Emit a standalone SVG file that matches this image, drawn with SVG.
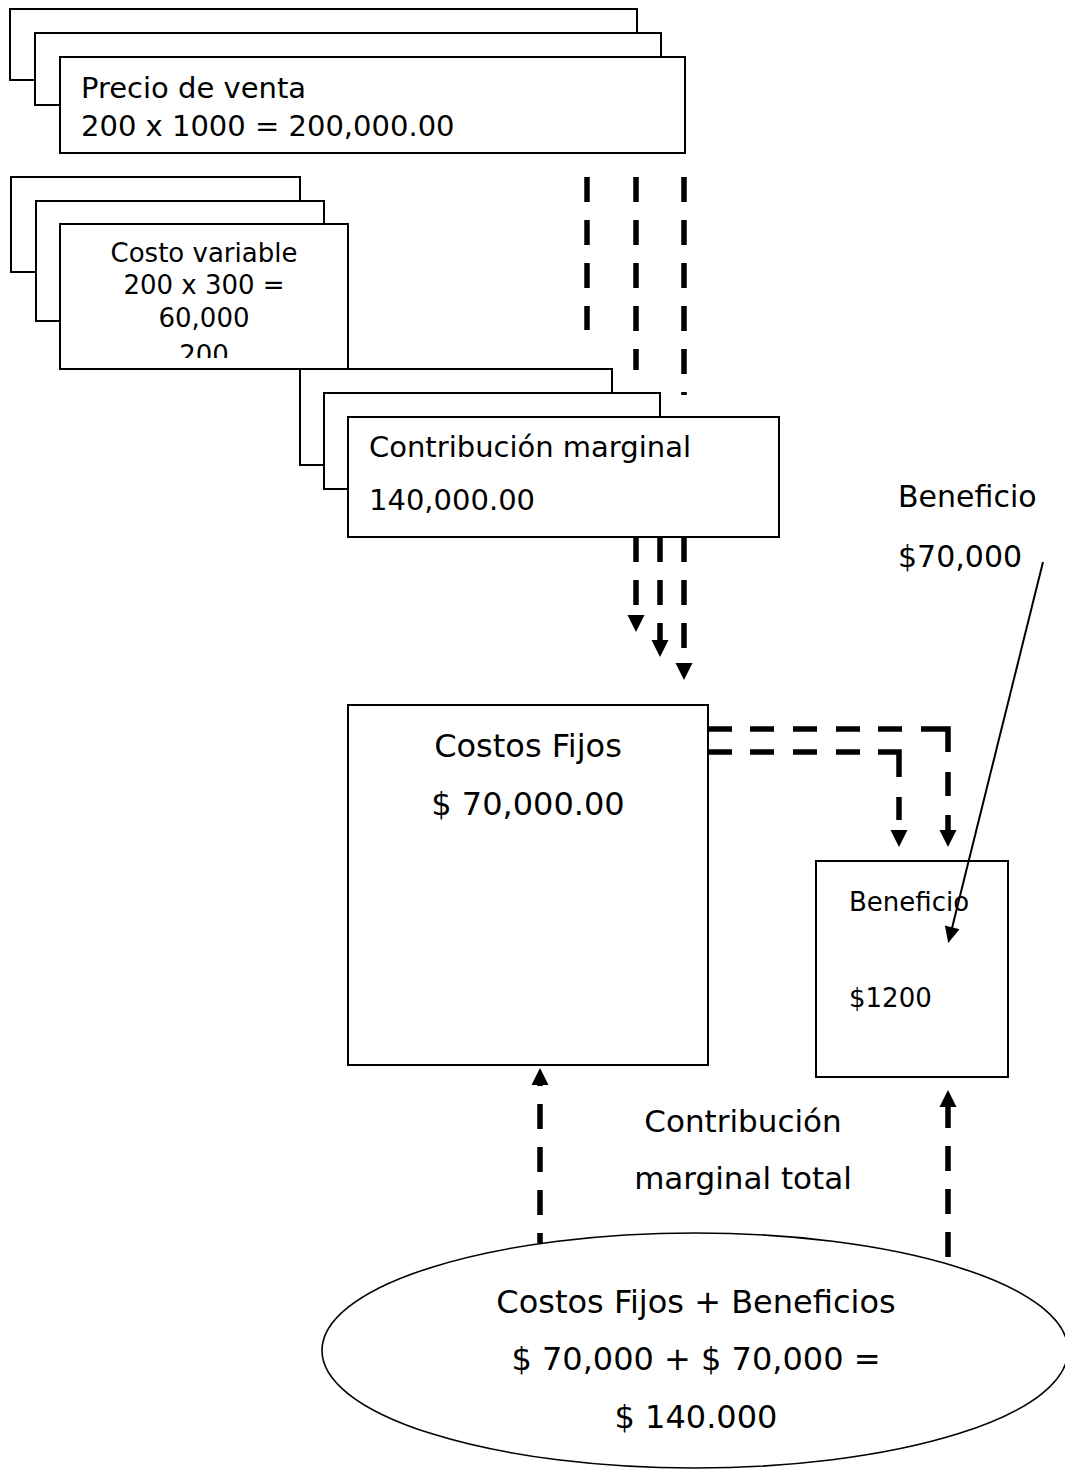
<svg xmlns="http://www.w3.org/2000/svg" width="1065" height="1470" viewBox="0 0 1065 1470">
  <style>
    .box { fill: #ffffff; stroke: #000000; stroke-width: 2; }
    .lbl { font-family: "DejaVu Sans", Verdana, sans-serif; fill: #000000; }
    .dash { fill: none; stroke: #000000; stroke-width: 5.5; stroke-dasharray: 25 18; }
    .thin { fill: none; stroke: #000000; stroke-width: 2; }
  </style>
  <defs>
    <!-- heavy triangular head for the dashed flows -->
    <marker id="head" markerUnits="userSpaceOnUse" markerWidth="17" markerHeight="17" refX="0" refY="8.5" orient="auto" overflow="visible">
      <path d="M0,0 L17,8.5 L0,17 Z" fill="#000000"/>
    </marker>
    <!-- smaller head for the thin pointer line -->
    <marker id="headSmall" markerUnits="userSpaceOnUse" markerWidth="16" markerHeight="15" refX="1" refY="7.5" orient="auto" overflow="visible">
      <path d="M0,0 L16,7.5 L0,15 Z" fill="#000000"/>
    </marker>
    <clipPath id="costoClip">
      <rect x="60" y="224" width="288" height="134"/>
    </clipPath>
  </defs>

  <!-- sale price stack -->
  <g id="precio-venta">
    <rect class="box" x="10" y="9" width="627" height="71"/>
    <rect class="box" x="35" y="33" width="626" height="72"/>
    <rect class="box" x="60" y="57" width="625" height="96"/>
    <text class="lbl" x="81" y="98" font-size="29">Precio de venta</text>
    <text class="lbl" x="81" y="136" font-size="29">200 x 1000 = 200,000.00</text>
  </g>

  <!-- variable cost stack -->
  <g id="costo-variable">
    <rect class="box" x="11" y="177" width="289" height="95"/>
    <rect class="box" x="36" y="201" width="288" height="120"/>
    <rect class="box" x="60" y="224" width="288" height="145"/>
    <g clip-path="url(#costoClip)" text-anchor="middle">
      <text class="lbl" x="204" y="262" font-size="26">Costo variable</text>
      <text class="lbl" x="204" y="294" font-size="26">200 x 300 =</text>
      <text class="lbl" x="204" y="327" font-size="26">60,000</text>
      <text class="lbl" x="204" y="364" font-size="26">200</text>
    </g>
  </g>

  <!-- contribution margin stack -->
  <g id="contribucion-marginal">
    <rect class="box" x="300" y="369" width="312" height="96"/>
    <rect class="box" x="324" y="393" width="336" height="96"/>
    <rect class="box" x="348" y="417" width="431" height="120"/>
    <text class="lbl" x="369" y="457" font-size="29">Contribución marginal</text>
    <text class="lbl" x="369" y="510" font-size="29">140,000.00</text>
  </g>

  <!-- profit label -->
  <g id="beneficio-label">
    <text class="lbl" x="898" y="507" font-size="30">Beneficio</text>
    <text class="lbl" x="898" y="567" font-size="30">$70,000</text>
  </g>

  <!-- fixed costs -->
  <g id="costos-fijos">
    <rect class="box" x="348" y="705" width="360" height="360"/>
    <text class="lbl" x="528" y="757" font-size="32" text-anchor="middle">Costos Fijos</text>
    <text class="lbl" x="528" y="815" font-size="32" text-anchor="middle">$ 70,000.00</text>
  </g>

  <!-- profit box -->
  <g id="beneficio">
    <rect class="box" x="816" y="861" width="192" height="216"/>
    <text class="lbl" x="849" y="911" font-size="26">Beneficio</text>
    <text class="lbl" x="849" y="1007" font-size="26">$1200</text>
  </g>

  <!-- caption between the up arrows -->
  <g id="contribucion-total">
    <text class="lbl" x="743" y="1132" font-size="31" text-anchor="middle">Contribución</text>
    <text class="lbl" x="743" y="1189" font-size="31" text-anchor="middle">marginal total</text>
  </g>

  <!-- total ellipse -->
  <g id="costos-mas-beneficios">
    <ellipse cx="695" cy="1350.5" rx="373" ry="117.5" fill="#ffffff" stroke="#000000" stroke-width="1.6"/>
    <text class="lbl" x="696" y="1313" font-size="32" text-anchor="middle">Costos Fijos + Beneficios</text>
    <text class="lbl" x="696" y="1370" font-size="32" text-anchor="middle">$ 70,000 + $ 70,000 =</text>
    <text class="lbl" x="696" y="1428" font-size="32" text-anchor="middle">$ 140.000</text>
  </g>

  <!-- flows -->
  <g id="connectors">
    <!-- from sale price down toward the margin stack -->
    <path class="dash" d="M587,177 V330"/>
    <path class="dash" d="M636,177 V370"/>
    <path class="dash" d="M684,177 V395"/>

    <!-- margin stack down to fixed costs -->
    <path class="dash" d="M636,537 V615" marker-end="url(#head)"/>
    <path class="dash" d="M660,537 V640" marker-end="url(#head)"/>
    <path class="dash" d="M684,537 V663" marker-end="url(#head)"/>

    <!-- fixed costs across to profit box -->
    <path class="dash" d="M708,729 H948 V830" style="stroke-dasharray: 24 18 24 19 24 19 24 18 24 19 50 20 24 19 40" marker-end="url(#head)"/>
    <path class="dash" d="M708,752 H899 V830" style="stroke-dasharray: 24 18 24 19 24 19 24 18 46 20 23 40" marker-end="url(#head)"/>

    <!-- up from the total to both boxes, starting on the ellipse rim -->
    <path class="dash" d="M540,1243 V1085" style="stroke-dashoffset: 15" marker-end="url(#head)"/>
    <path class="dash" d="M948,1264 V1107" style="stroke-dashoffset: 36" marker-end="url(#head)"/>

    <!-- pointer from the profit figure into the profit box -->
    <path class="thin" d="M1043,562 L951.9,928.4" marker-end="url(#headSmall)"/>
  </g>
</svg>
